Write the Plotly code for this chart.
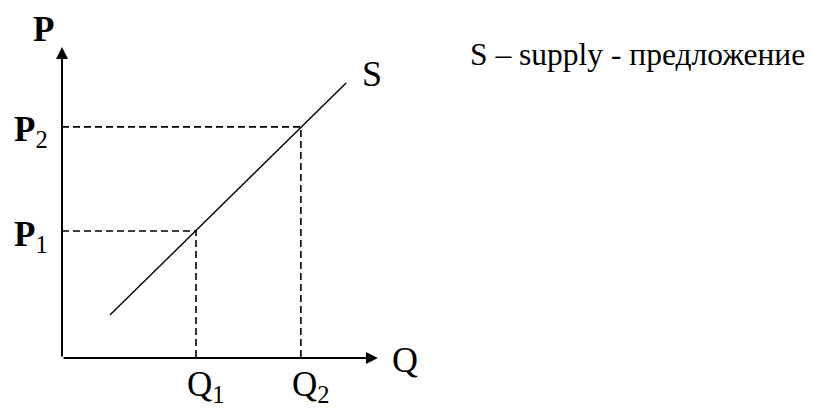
import plotly.graph_objects as go

# supply curve S (Q, P) endpoints and the two marked points
s_q = [1.43, 8.48]
s_p = [1.28, 8.21]
q_points = [4.0, 7.13]
p_points = [3.79, 6.9]
q_labels = ["Q<sub>1</sub>", "Q<sub>2</sub>"]
p_labels = ["<b>P</b><sub>1</sub>", "<b>P</b><sub>2</sub>"]
q_axis_end = 9.43
p_axis_end = 9.28

px = 33.5  # pixels per unit
off = 8    # page body margin
W, H = 813 - off, 410 - off
x0, y0 = 62 - off, 358 - off  # origin in figure pixels
fnt = "Liberation Serif, Times New Roman, serif"

fig = go.Figure()

# dashed guides
for q, p in zip(q_points, p_points):
    fig.add_trace(go.Scatter(x=[0, q, q], y=[p, p, 0], mode="lines",
                             line=dict(color="black", width=1.6, dash="7px,4px"),
                             hoverinfo="skip"))

# supply line
fig.add_trace(go.Scatter(x=s_q, y=s_p, mode="lines",
                         line=dict(color="black", width=1.4), hoverinfo="skip"))

anns = []
# axes with arrowheads
anns.append(dict(x=q_axis_end, y=0, ax=0, ay=0, xref="x", yref="y", axref="x", ayref="y",
                 showarrow=True, arrowhead=2, arrowsize=1.2, arrowwidth=2, arrowcolor="black", text=""))
anns.append(dict(x=0, y=p_axis_end, ax=0, ay=0, xref="x", yref="y", axref="x", ayref="y",
                 showarrow=True, arrowhead=2, arrowsize=1.2, arrowwidth=2, arrowcolor="black", text=""))

# axis titles
anns.append(dict(x=0, y=p_axis_end, text="<b>P</b>", showarrow=False, xanchor="center", yanchor="bottom",
                 xshift=-19, yshift=-4, font=dict(family=fnt, size=35, color="black")))
anns.append(dict(x=q_axis_end, y=0, text="Q", showarrow=False, xanchor="left", yanchor="middle",
                 xshift=12, yshift=-2, font=dict(family=fnt, size=36, color="black")))
anns.append(dict(x=s_q[1], y=s_p[1], text="S", showarrow=False, xanchor="left", yanchor="middle",
                 xshift=14, yshift=9, font=dict(family=fnt, size=36, color="black")))

for q, lab in zip(q_points, q_labels):
    anns.append(dict(x=q, y=0, text=lab, showarrow=False, xanchor="center", yanchor="top",
                     xshift=10, yshift=-5, font=dict(family=fnt, size=35, color="black")))
for p, lab in zip(p_points, p_labels):
    anns.append(dict(x=0, y=p, text=lab, showarrow=False, xanchor="right", yanchor="middle",
                     xshift=-12, yshift=-5, font=dict(family=fnt, size=35, color="black")))

anns.append(dict(x=(468 - off) / W, y=1 - (54 - off) / H, xref="paper", yref="paper",
                 text="S – supply - предложение",
                 showarrow=False, xanchor="left", yanchor="middle",
                 font=dict(family=fnt, size=31.5, color="black")))

fig.update_layout(
    width=W, height=H,
    margin=dict(l=0, r=0, t=0, b=0),
    paper_bgcolor="white", plot_bgcolor="white",
    showlegend=False,
    annotations=anns,
    xaxis=dict(range=[-x0 / px, (W - x0) / px], visible=False, fixedrange=True),
    yaxis=dict(range=[-(H - y0) / px, y0 / px], visible=False, fixedrange=True),
)

fig.write_html("out.html", config={"displayModeBar": False})
